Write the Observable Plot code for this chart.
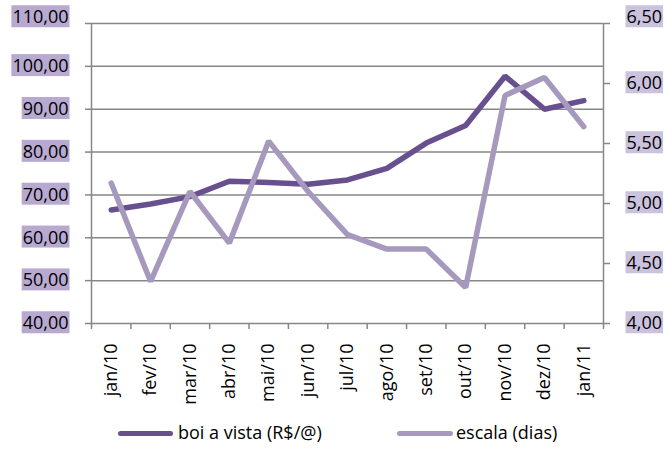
<!DOCTYPE html>
<html>
<head>
<meta charset="utf-8">
<script src="https://cdn.jsdelivr.net/npm/d3@7"></script>
<script src="https://cdn.jsdelivr.net/npm/@observablehq/plot@0.6"></script>
<style>
  body { margin: 0; background: #fff; }
  #wrap { width: 666px; font-family: "Open Sans", sans-serif; }
  #legend { position: relative; width: 666px; height: 38px; font-size: 18px; color: #000; }
  .sw { position: absolute; top: 16px; height: 5px; border-radius: 3px; }
  .lt { position: absolute; top: 5px; line-height: 24px; white-space: nowrap; }
</style>
</head>
<body>
<div id="wrap"></div>
<script>
const months = ["jan/10","fev/10","mar/10","abr/10","mai/10","jun/10","jul/10","ago/10","set/10","out/10","nov/10","dez/10","jan/11"];
const boi = [66.5, 67.9, 69.6, 73.2, 72.9, 72.5, 73.5, 76.2, 82.1, 86.2, 97.7, 90.0, 92.0];
const escala = [5.17, 4.35, 5.10, 4.67, 5.52, 5.10, 4.74, 4.62, 4.62, 4.30, 5.90, 6.05, 5.64];
const leftTicks = [40, 50, 60, 70, 80, 90, 100, 110];
const rightTicks = [4.0, 4.5, 5.0, 5.5, 6.0, 6.5];
const seriesNames = ["boi a vista (R$/@)", "escala (dias)"];
const colors = ["#68508f", "#a799bd"];

const toLeft = v => 40 + (v - 4) * 28;
const fromLeft = d => (d - 40) / 28 + 4;
const fmt = d => d.toFixed(2).replace(".", ",");

const boiData = months.map((m, i) => ({i: i + 0.5, v: boi[i]}));
const escData = months.map((m, i) => ({i: i + 0.5, v: toLeft(escala[i])}));
const gray = "#878787";

const chart = Plot.plot({
  width: 666,
  height: 415,
  marginLeft: 91,
  marginRight: 63,
  marginTop: 23,
  marginBottom: 92,
  x: {type: "linear", domain: [0, months.length]},
  y: {domain: [leftTicks[0], leftTicks[leftTicks.length - 1]]},
  style: {fontFamily: "Open Sans", fontSize: "18px", color: "#000", background: "#fff"},
  marks: [
    Plot.gridY(leftTicks.slice(1), {stroke: gray, strokeOpacity: 1, strokeWidth: 1.5}),
    Plot.ruleY([leftTicks[0]], {stroke: gray, strokeWidth: 1.5}),
    Plot.ruleX([0, months.length], {stroke: gray, strokeWidth: 1.5}),
    Plot.axisY(leftTicks, {anchor: "left", tickSize: 6, tickPadding: 17, tickFormat: fmt, stroke: gray, strokeWidth: 1.5, label: null}),
    Plot.axisY(rightTicks.map(toLeft), {anchor: "right", tickSize: 6, tickPadding: 17, tickFormat: d => fmt(fromLeft(d)), stroke: gray, strokeWidth: 1.5, label: null}),
    Plot.axisX(d3.range(months.length + 1), {anchor: "bottom", tickSize: 6, tickFormat: () => "", stroke: gray, strokeWidth: 1.5, label: null}),
    Plot.axisX(d3.range(months.length).map(i => i + 0.5), {anchor: "bottom", tickSize: 0, tickPadding: 20, tickRotate: -90, tickFormat: d => months[Math.floor(d)], label: null}),
    Plot.line(boiData, {x: "i", y: "v", stroke: colors[0], strokeWidth: 5.5, strokeLinejoin: "miter", strokeLinecap: "round"}),
    Plot.line(escData, {x: "i", y: "v", stroke: colors[1], strokeWidth: 5.5, strokeLinejoin: "miter", strokeLinecap: "round"})
  ]
});

const wrap = document.getElementById("wrap");
wrap.appendChild(chart);

// label backgrounds
const svg = d3.select(chart);
svg.selectAll('g[aria-label="y-axis tick label"]').each(function() {
  const texts = Array.from(this.querySelectorAll("text"));
  let top = null, topY = Infinity;
  texts.forEach(t => {
    const m = /translate\(([-\d.]+),\s*([-\d.]+)\)/.exec(t.getAttribute("transform") || "");
    if (m && +m[2] < topY) { topY = +m[2]; top = t; }
  });
  if (top) {
    const m = /translate\(([-\d.]+),\s*([-\d.]+)\)/.exec(top.getAttribute("transform"));
    top.setAttribute("transform", `translate(${m[1]},${+m[2] - 6})`);
  }
  texts.forEach(t => {
    const b = t.getBBox();
    const right = +(/translate\(([-\d.]+)/.exec(t.getAttribute("transform") || "translate(0")[1]) > 333;
    const r = document.createElementNS("http://www.w3.org/2000/svg", "rect");
    r.setAttribute("x", b.x - 1);
    r.setAttribute("y", b.y + 1);
    r.setAttribute("width", b.width + 2);
    r.setAttribute("height", b.height - 2);
    r.setAttribute("fill", right ? "#cbc2de" : "#b8a9d0");
    if (t.getAttribute("transform")) r.setAttribute("transform", t.getAttribute("transform"));
    t.parentNode.insertBefore(r, t);
  });
});

// legend
const legend = document.createElement("div");
legend.id = "legend";
const pos = [[118, 55, 178], [397, 56, 456]];
seriesNames.forEach((name, k) => {
  const sw = document.createElement("div");
  sw.className = "sw";
  sw.style.left = pos[k][0] + "px";
  sw.style.width = pos[k][1] + "px";
  sw.style.background = colors[k];
  const tx = document.createElement("div");
  tx.className = "lt";
  tx.style.left = pos[k][2] + "px";
  tx.textContent = name;
  legend.appendChild(sw);
  legend.appendChild(tx);
});
wrap.appendChild(legend);
</script>
</body>
</html>
